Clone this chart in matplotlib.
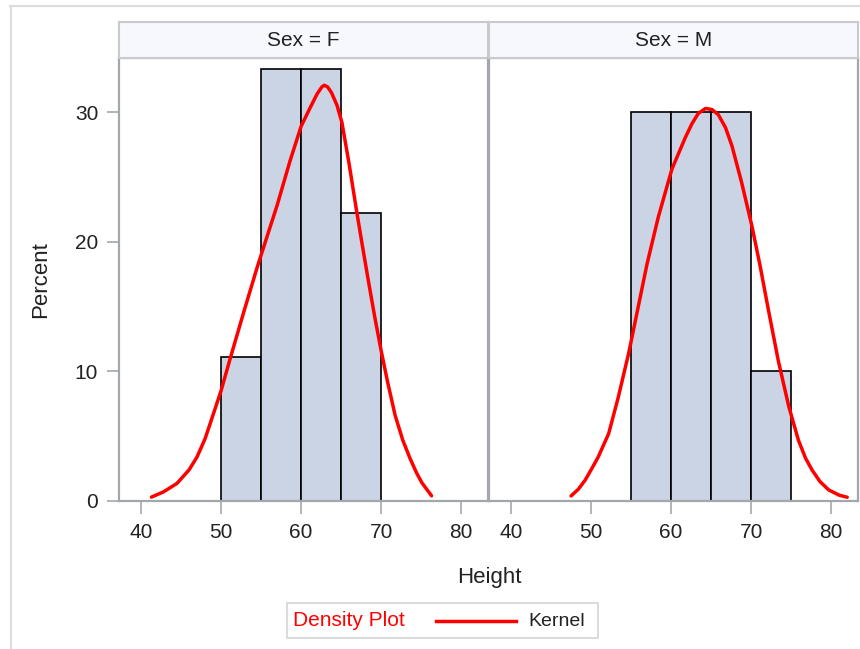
import matplotlib.pyplot as plt
from matplotlib.patches import Rectangle
from matplotlib.lines import Line2D

plt.rcParams['font.family'] = ['Liberation Sans', 'DejaVu Sans']

# histogram bins (left edges, width 5) and percents per panel
f_bins = [50, 55, 60, 65]
f_pct = [11.11, 33.33, 33.33, 22.22]
m_bins = [55, 60, 65, 70]
m_pct = [30, 30, 30, 10]

# kernel density curves
f_kde_x = [41.3, 42.8, 44.5, 46.0, 47.0, 48.0, 48.6, 50.0, 51.1, 52.8, 54.5, 55.8,
           57.0, 58.6, 60.0, 61.1, 62.0, 62.6, 62.9, 63.3, 63.8, 64.5, 65.1, 66.0,
           66.9, 67.6, 68.4, 69.2, 70.0, 70.8, 71.75, 72.7, 73.6, 74.4, 75.1, 76.3]
f_kde_y = [0.3, 0.7, 1.36, 2.4, 3.4, 4.8, 5.9, 8.5, 10.9, 14.5, 18.0, 20.5,
           22.8, 26.2, 28.9, 30.3, 31.4, 31.95, 32.07, 31.95, 31.5, 30.5, 29.2, 26.0,
           22.5, 19.9, 17.0, 14.2, 11.6, 9.2, 6.6, 4.7, 3.3, 2.2, 1.4, 0.4]

m_kde_x = [47.5, 48.4, 49.25, 50.0, 50.9, 52.2, 53.4, 54.7, 55.9, 57.0, 58.4,
           60.1, 61.75, 62.6, 63.4, 64.3, 65.1, 65.9, 66.8, 67.6, 68.8, 70.1,
           71.1, 72.2, 73.4, 74.7, 75.9, 76.8, 77.6, 78.6, 79.7, 81.0, 82.0]
m_kde_y = [0.39, 0.9, 1.6, 2.4, 3.4, 5.2, 8.0, 11.4, 15.0, 18.3, 21.9,
           25.6, 28.0, 29.1, 29.9, 30.28, 30.2, 29.8, 28.8, 27.4, 24.6, 21.2,
           18.2, 14.6, 10.8, 7.3, 4.7, 3.3, 2.4, 1.5, 0.85, 0.45, 0.29]

panels = [('Sex = F', f_bins, f_pct, f_kde_x, f_kde_y),
          ('Sex = M', m_bins, m_pct, m_kde_x, m_kde_y)]

W, H = 860, 649
def fx(px):
    return px / W
def fy(py):
    return 1 - py / H

grey = '#a3a7ab'
fig = plt.figure(figsize=(8.6, 6.49), dpi=100)

lefts = [119, 489]
for i, (title, bins, pct, kx, ky) in enumerate(panels):
    l = lefts[i]
    ax = fig.add_axes([fx(l), fy(501), fx(369), (501 - 58.3) / H])
    ax.bar(bins, pct, width=5, align='edge', color='#cad4e4',
           edgecolor='black', linewidth=1.2, zorder=2)
    ax.plot(kx, ky, color='red', lw=2.5, zorder=3, solid_joinstyle='round',
            solid_capstyle='round')
    ax.set_xlim(37.25, 83.35)
    ax.set_ylim(0, 34.15)
    ax.set_xticks([40, 50, 60, 70, 80])
    ax.set_yticks([0, 10, 20, 30])
    for s in ax.spines.values():
        s.set_color(grey)
        s.set_linewidth(1.6)
    ax.tick_params(axis='both', direction='out', length=9, width=1.2,
                   color=grey, labelsize=15, labelcolor='#222222')
    ax.tick_params(axis='x', pad=7)
    ax.tick_params(axis='y', pad=6)
    if i == 1:
        ax.tick_params(axis='y', left=False, labelleft=False)

    # strip header
    sx = fig.add_axes([fx(l), fy(58), fx(369), 36 / H])
    sx.set_facecolor('#f7f8fe')
    sx.set_xticks([])
    sx.set_yticks([])
    for s in sx.spines.values():
        s.set_color('#c8cacc')
        s.set_linewidth(1.5)
    sx.text(0.5, 0.5, title, ha='center', va='center', fontsize=15,
            color='#222222', transform=sx.transAxes)

fig.text(fx(41), fy(280), 'Percent', rotation=90, ha='center', va='center',
         fontsize=16, color='#222222')
fig.text(fx(489), fy(578), 'Height', ha='center', va='center',
         fontsize=16, color='#222222')

# legend
fig.add_artist(Rectangle((fx(287), fy(638)), fx(311), 35 / H,
                         transform=fig.transFigure, fill=False,
                         edgecolor='#d4d4d4', lw=1.2))
fig.text(fx(293), fy(621), 'Density Plot', ha='left', va='center',
         fontsize=15, color='red')
fig.add_artist(Line2D([fx(436), fx(516)], [fy(621), fy(621)],
                      transform=fig.transFigure, color='red', lw=2.5))
fig.text(fx(528), fy(621), 'Kernel', ha='left', va='center',
         fontsize=14, color='#222222')

# outer frame
fig.add_artist(Line2D([fx(10), 1], [fy(6), fy(6)], transform=fig.transFigure,
                      color='#dcdcdc', lw=1.5))
fig.add_artist(Line2D([fx(11), fx(11)], [fy(6), 0], transform=fig.transFigure,
                      color='#dcdcdc', lw=1.5))

fig.savefig('out.png', dpi=100)
